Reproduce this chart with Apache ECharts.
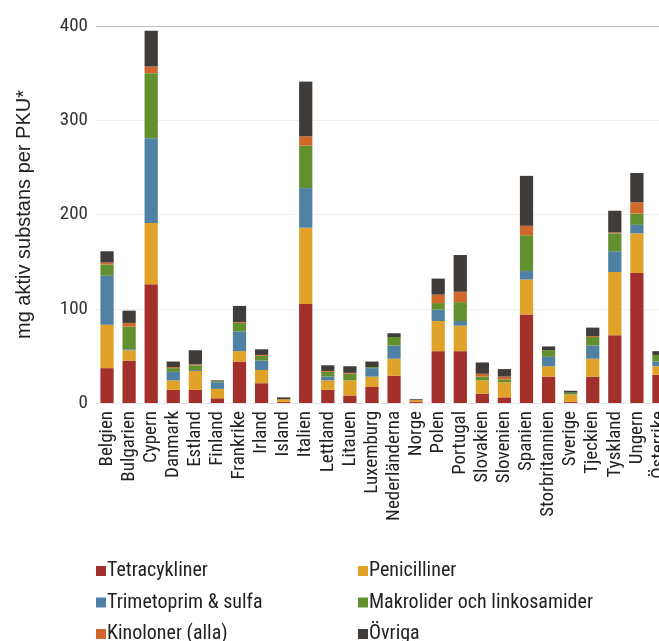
<!DOCTYPE html>
<html>
<head>
<meta charset="utf-8">
<script src="https://cdn.jsdelivr.net/npm/echarts@6/dist/echarts.min.js"></script>
<style>
html,body{margin:0;padding:0;background:#fff;overflow:hidden;width:659px;height:641px;}
#chart{width:680px;height:641px;}
</style>
</head>
<body>
<div id="chart"></div>
<script>
const countries = ["Belgien","Bulgarien","Cypern","Danmark","Estland","Finland","Frankrike","Irland","Island","Italien","Lettland","Litauen","Luxemburg","Nederländerna","Norge","Polen","Portugal","Slovakien","Slovenien","Spanien","Storbritannien","Sverige","Tjeckien","Tyskland","Ungern","Österrike"];
const tetracykliner = [37,45,126,14,14,5,44,21,1,105,14,8,17,29,1,55,55,10,6,94,28,1,28,72,138,30];
const penicilliner  = [46,11,65,10,20,10,11,14,3,81,10,16,11,18,2,32,27,14,16,37,11,8,19,67,42,9];
const trimetoprim   = [52,1,90,9,1,7,21,10,0,42,4,0,9,14,0,12,5,0,0,9,10,0,14,22,9,5];
const makrolider    = [12,24,69,4,5,1,9,5,0,45,5,7,1,9,0,7,20,4,3,38,7,2,9,19,12,7];
const kinoloner     = [2,4,7,1,1,0,1,1,0,10,1,1,0,0,0,9,11,3,3,10,0,0,1,1,12,0];
const ovriga        = [12,13,38,6,15,1,17,6,2,58,6,7,6,4,1,17,39,12,8,53,4,2,9,23,31,4];
const yTicks = [0,100,200,300,400];
const seriesNames = ["Tetracykliner","Penicilliner","Trimetoprim & sulfa","Makrolider och linkosamider","Kinoloner (alla)","Övriga"];
const seriesData = [tetracykliner,penicilliner,trimetoprim,makrolider,kinoloner,ovriga];
const colors = ["#a3302a","#e0a229","#4e81a3","#62902f","#d2672c","#403c3a"];

const condensed = '"Roboto Condensed","Liberation Sans Narrow","DejaVu Sans Condensed",sans-serif';
const chart = echarts.init(document.getElementById('chart'), null, {renderer:'canvas'});
const legendText = {fontFamily:condensed,fontSize:20,color:'#222',padding:[0,0,0,-4],lineHeight:22};
chart.setOption({
  animation:false,
  color: colors,
  grid:{left:96,right:10,top:26,bottom:238,containLabel:false},
  legend:[
    {orient:'vertical',left:91,top:555,height:120,itemWidth:10,itemHeight:10,itemGap:9.5,icon:'rect',
     textStyle:legendText,data:[seriesNames[0],seriesNames[2],seriesNames[4]]},
    {orient:'vertical',left:353,top:555,height:120,itemWidth:10,itemHeight:10,itemGap:9.5,icon:'rect',
     textStyle:legendText,data:[seriesNames[1],seriesNames[3],seriesNames[5]]}
  ],
  xAxis:{type:'category',data:countries,
    axisLine:{show:false},axisTick:{show:false},
    axisLabel:{interval:0,rotate:90,fontFamily:condensed,fontSize:19,color:'#222',margin:8}},
  yAxis:{type:'value',min:0,max:400,interval:100,
    name:'mg aktiv substans per PKU*',nameLocation:'middle',nameGap:62,
    nameTextStyle:{fontFamily:'"Liberation Sans",Arial,sans-serif',fontSize:20,color:'#222'},
    axisLine:{show:false},axisTick:{show:false},
    axisLabel:{fontFamily:condensed,fontSize:19,color:'#333',margin:8,
      formatter:function(v){return yTicks.indexOf(v)>=0?String(v):'';}},
    splitLine:{lineStyle:{color:['#e6e6e6','#efefef','#efefef','#efefef','#bbbbbb'],width:1}}},
  series: seriesNames.map(function(n,i){
    return {name:n,type:'bar',stack:'total',data:seriesData[i],barWidth:'60%',
      itemStyle:{color:colors[i]}};
  })
});
</script>
</body>
</html>
